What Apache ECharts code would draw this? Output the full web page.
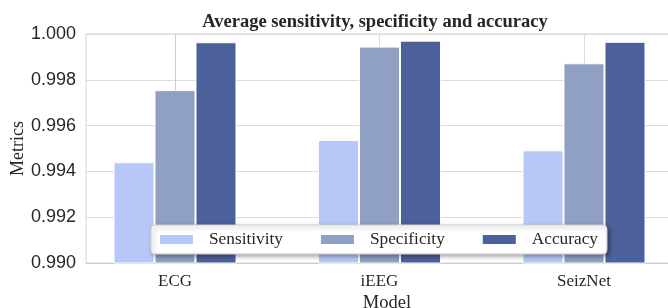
<!DOCTYPE html>
<html>
<head>
<meta charset="utf-8">
<script src="https://cdn.jsdelivr.net/npm/echarts@6/dist/echarts.min.js"></script>
<style>
    html, body { margin: 0; padding: 0; background: #fff; }
    #chart { width: 668px; height: 308px; }
</style>
</head>
<body>
<div id="chart"></div>
<script>
    // 数据
    var categories = ['ECG', 'iEEG', 'SeizNet'];
    var sensitivity = [0.99440, 0.99537, 0.99492];
    var specificity = [0.99755, 0.99945, 0.99872];
    var accuracy = [0.99964, 0.99971, 0.99966];
    var yTicks = [0.990, 0.992, 0.994, 0.996, 0.998, 1.000];

    var serif = "'Liberation Serif', 'Times New Roman', serif";
    var sans = "'Liberation Sans', Arial, sans-serif";

    function toPairs(arr) {
        return arr.map(function (v, i) { return [i, v]; });
    }

    function barSeries(name, data, color) {
        return {
            name: name,
            type: 'bar',
            data: toPairs(data),
            barWidth: 41,
            barGap: '0%',
            itemStyle: { color: color, borderColor: '#fff', borderWidth: 1 },
            emphasis: { disabled: true }
        };
    }

    var myChart = echarts.init(document.getElementById('chart'));
    var option = {
        animation: false,
        title: {
            text: 'Average sensitivity, specificity and accuracy',
            left: 370,
            textAlign: 'center',
            top: 8,
            textStyle: { fontFamily: serif, fontSize: 18.5, fontWeight: 'bold', color: '#262626' }
        },
        grid: {
            left: 86, top: 34, right: -20, bottom: 45,
            outerBoundsMode: 'none',
            containLabel: false,
            show: true, borderColor: '#d6d6d6', borderWidth: 1
        },
        legend: {
            left: 151,
            top: 225,
            padding: [6, 9, 6, 7],
            itemWidth: 35,
            itemHeight: 11,
            itemGap: 36,
            icon: 'rect',
            backgroundColor: '#fff',
            borderColor: '#d0d0d0',
            borderWidth: 1,
            borderRadius: 4,
            shadowBlur: 4,
            shadowColor: 'rgba(0,0,0,0.35)',
            shadowOffsetX: 2,
            shadowOffsetY: 2,
            textStyle: { fontFamily: serif, fontSize: 17.3, color: '#262626', padding: [0, 0, 0, 10] },
            data: ['Sensitivity', 'Specificity', 'Accuracy']
        },
        xAxis: {
            type: 'value',
            min: -0.4352,
            max: 2.5086,
            name: 'Model',
            nameLocation: 'middle',
            nameGap: 31,
            nameMoveOverlap: false,
            nameTextStyle: { fontFamily: serif, fontSize: 18.5, color: '#262626' },
            axisLine: { show: true, lineStyle: { color: '#cccccc' } },
            axisTick: { show: false, customValues: [0, 1, 2] },
            axisLabel: {
                customValues: [0, 1, 2],
                margin: 10,
                fontFamily: serif,
                fontSize: 17,
                color: '#262626',
                formatter: function (v) { return categories[Math.round(v)]; }
            },
            splitLine: { show: true, lineStyle: { color: '#dcdcdc' } }
        },
        yAxis: {
            type: 'value',
            min: yTicks[0],
            max: yTicks[yTicks.length - 1],
            interval: 0.002,
            name: 'Metrics',
            nameLocation: 'middle',
            nameGap: 59,
            nameMoveOverlap: false,
            nameTextStyle: { fontFamily: serif, fontSize: 18, color: '#262626' },
            axisLine: { show: true, lineStyle: { color: '#cccccc' } },
            axisTick: { show: false },
            axisLabel: {
                margin: 10,
                fontFamily: sans,
                fontSize: 18,
                color: '#262626',
                formatter: function (v) { return v.toFixed(3); }
            },
            splitLine: { show: true, lineStyle: { color: '#dcdcdc' } }
        },
        series: [
            barSeries('Sensitivity', sensitivity, '#b7c8f8'),
            barSeries('Specificity', specificity, '#909fc4'),
            barSeries('Accuracy', accuracy, '#4c619b')
        ]
    };
    myChart.setOption(option);
</script>
</body>
</html>
